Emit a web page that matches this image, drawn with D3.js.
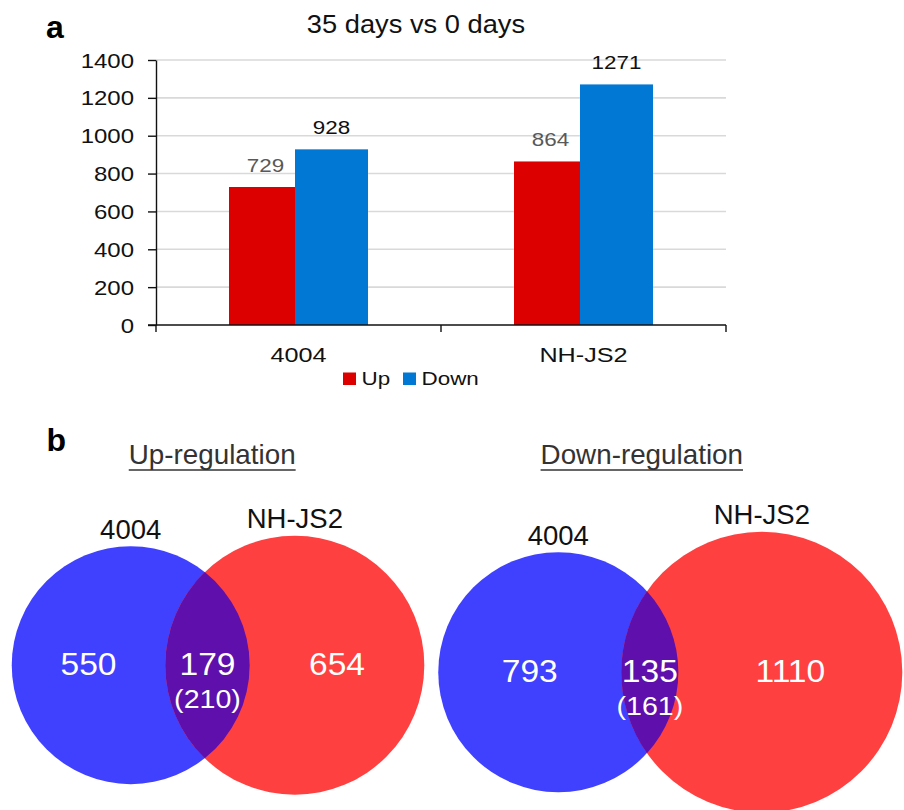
<!DOCTYPE html>
<html>
<head>
<meta charset="utf-8">
<script src="https://cdn.jsdelivr.net/npm/d3@7"></script>
<style>
  html, body { margin: 0; padding: 0; background: #fff; }
  svg { display: block; font-family: "Liberation Sans", Arial, sans-serif; }
</style>
</head>
<body>
<svg id="fig" width="904" height="810"></svg>
<script>
// ---- Panel a: number of differentially expressed genes (35 days vs 0 days)
const groups = ["4004", "NH-JS2"];
const upCounts = [729, 864];
const downCounts = [928, 1271];
const yTicks = [0, 200, 400, 600, 800, 1000, 1200, 1400];
const seriesNames = ["Up", "Down"];

// ---- Panel b: overlap of regulated genes between the two lines
const vennTitles = ["Up-regulation", "Down-regulation"];
const vennSets = ["4004", "NH-JS2"];
const vennTotals = [upCounts, downCounts];          // circle sizes
const vennUnique = [[550, 654], [793, 1110]];       // genes found in one line only
const vennShared = [179, 135];                      // shared (counted in 4004)
const vennSharedAlt = [210, 161];                   // shared (counted in NH-JS2)

const svg = d3.select("#fig");

// bar chart colours / fonts
const barColors = ["#dd0000", "#0078d4"];
const labelColors = ["#595959", "#111"];
const SX = 1.18; // slightly wide lettering used in the bar chart

function wideText(g, x, y, str, size, anchor, color, sx) {
  return g.append("text")
    .attr("transform", `translate(${x},${y}) scale(${sx},1)`)
    .attr("text-anchor", anchor)
    .attr("font-size", size)
    .attr("fill", color)
    .text(str);
}

// ---------------- Panel a ----------------
const plot = { left: 156, right: 726, top: 60, bottom: 325 };
const x = d3.scaleBand().domain(groups).range([plot.left, plot.right]).padding(0);
const y = d3.scaleLinear().domain([0, 1400]).range([plot.bottom, plot.top]);

const a = svg.append("g");

a.append("text").attr("x", 46).attr("y", 37.5)
  .attr("font-size", 32).attr("font-weight", "bold").text("a");

wideText(a, 416, 33, "35 days vs 0 days", 25.5, "middle", "#111", 1.07);

// gridlines
a.append("g").selectAll("line")
  .data(yTicks.filter(d => d > 0))
  .join("line")
  .attr("x1", plot.left).attr("x2", plot.right)
  .attr("y1", d => y(d)).attr("y2", d => y(d))
  .attr("stroke", "#d9d9d9").attr("stroke-width", 1.6);

// bars: two series per group with a small overlap
const barW = 73, overlap = 7;
const series = [upCounts, downCounts];
series.forEach((vals, si) => {
  const gx = g => x(g) + x.bandwidth() / 2 - (2 * barW - overlap) / 2 + si * (barW - overlap);
  a.append("g").selectAll("rect")
    .data(groups.map((g, i) => ({ g, v: vals[i] })))
    .join("rect")
    .attr("x", d => gx(d.g))
    .attr("width", barW)
    .attr("y", d => y(d.v))
    .attr("height", d => y(0) - y(d.v))
    .attr("fill", barColors[si]);
  groups.forEach((g, i) => {
    wideText(a, gx(g) + barW / 2, y(vals[i]) - 15, String(vals[i]), 19, "middle", labelColors[si], SX);
  });
});

// y axis
const yAxis = a.append("g")
  .attr("transform", `translate(${plot.left},0)`)
  .call(d3.axisLeft(y).tickValues(yTicks).tickSize(8).tickSizeOuter(0).tickFormat(d3.format("d")));
yAxis.select(".domain").attr("stroke", "#111").attr("stroke-width", 1.4);
yAxis.selectAll(".tick line").attr("stroke", "#111").attr("stroke-width", 1.4);
yAxis.selectAll(".tick text")
  .attr("font-size", 20).attr("fill", "#111")
  .attr("font-family", "Liberation Sans, Arial, sans-serif")
  .attr("x", -22 / 1.2).attr("dy", "0.35em")
  .attr("transform", "scale(1.2,1)");

// x axis: baseline plus category separators
a.append("line")
  .attr("x1", plot.left - 8).attr("x2", plot.right)
  .attr("y1", y(0)).attr("y2", y(0))
  .attr("stroke", "#111").attr("stroke-width", 1.4);
const edges = groups.map(g => x(g)).concat([plot.right]);
a.append("g").selectAll("line").data(edges).join("line")
  .attr("x1", d => d).attr("x2", d => d)
  .attr("y1", y(0)).attr("y2", y(0) + 7)
  .attr("stroke", "#111").attr("stroke-width", 1.4);
groups.forEach(g => {
  wideText(a, x(g) + x.bandwidth() / 2, 361.5, g, 21, "middle", "#111", 1.2);
});

// legend
const legendX = [343, 403];
seriesNames.forEach((s, i) => {
  a.append("rect").attr("x", legendX[i]).attr("y", 372.5)
    .attr("width", 13).attr("height", 12.5).attr("fill", barColors[i]);
  wideText(a, legendX[i] + 18.5, 385, s, 19, "start", "#111", SX);
});

// ---------------- Panel b ----------------
const b = svg.append("g");
b.append("text").attr("x", 46.5).attr("y", 451)
  .attr("font-size", 32).attr("font-weight", "bold").text("b");

const blue = "#4040ff", red = "#ff4040", purple = "#5e0fac";
const vennLayout = [
  { cx: [130.7, 294.8], cy: 665.2, rMax: 129.5, title: 212.2 },
  { cx: [558.3, 761.8], cy: 672.2, rMax: 140.5, title: 641.8 }
];

vennLayout.forEach((L, k) => {
  const totals = vennTotals[k];
  const r = d3.scaleSqrt().domain([0, d3.max(totals)]).range([0, L.rMax]);
  const r1 = r(totals[0]), r2 = r(totals[1]);
  const [x1, x2] = L.cx, cy = L.cy;
  const g = b.append("g");

  // title with underline
  const t = g.append("text").attr("x", L.title).attr("y", 464.3)
    .attr("text-anchor", "middle").attr("font-size", 27.8).attr("fill", "#333")
    .text(vennTitles[k]);
  const tw = t.node().getComputedTextLength();
  g.append("line")
    .attr("x1", L.title - tw / 2).attr("x2", L.title + tw / 2)
    .attr("y1", 470).attr("y2", 470)
    .attr("stroke", "#333").attr("stroke-width", 1.6);

  g.append("circle").attr("cx", x1).attr("cy", cy).attr("r", r1).attr("fill", blue);
  g.append("circle").attr("cx", x2).attr("cy", cy).attr("r", r2).attr("fill", red);

  // lens shared by both circles
  const d = x2 - x1;
  const aOff = (d * d + r1 * r1 - r2 * r2) / (2 * d);
  const h = Math.sqrt(r1 * r1 - aOff * aOff);
  const px = x1 + aOff;
  g.append("path")
    .attr("d", `M${px},${cy - h} A${r1},${r1} 0 0 1 ${px},${cy + h} A${r2},${r2} 0 0 1 ${px},${cy - h}Z`)
    .attr("fill", purple);

  // set names above each circle
  g.append("text").attr("x", x1).attr("y", cy - r1 - 7)
    .attr("text-anchor", "middle").attr("font-size", 27.5).attr("fill", "#111").text(vennSets[0]);
  g.append("text").attr("x", x2).attr("y", cy - r2 - 7.5)
    .attr("text-anchor", "middle").attr("font-size", 27.5).attr("fill", "#111").text(vennSets[1]);

  // counts
  const lensL = x2 - r2, lensR = x1 + r1;
  const numX = [(x1 - r1 + lensL) / 2, (lensR + x2 + r2) / 2];
  vennUnique[k].forEach((v, i) => {
    wideText(g, numX[i], cy + 10, String(v), 30.5, "middle", "#fff", 1.1);
  });
  const midX = (lensL + lensR) / 2;
  wideText(g, midX, cy + 10, String(vennShared[k]), 30.5, "middle", "#fff", 1.1);
  wideText(g, midX, cy + 43, `(${vennSharedAlt[k]})`, 26, "middle", "#fff", 1.1);
});
</script>
</body>
</html>
